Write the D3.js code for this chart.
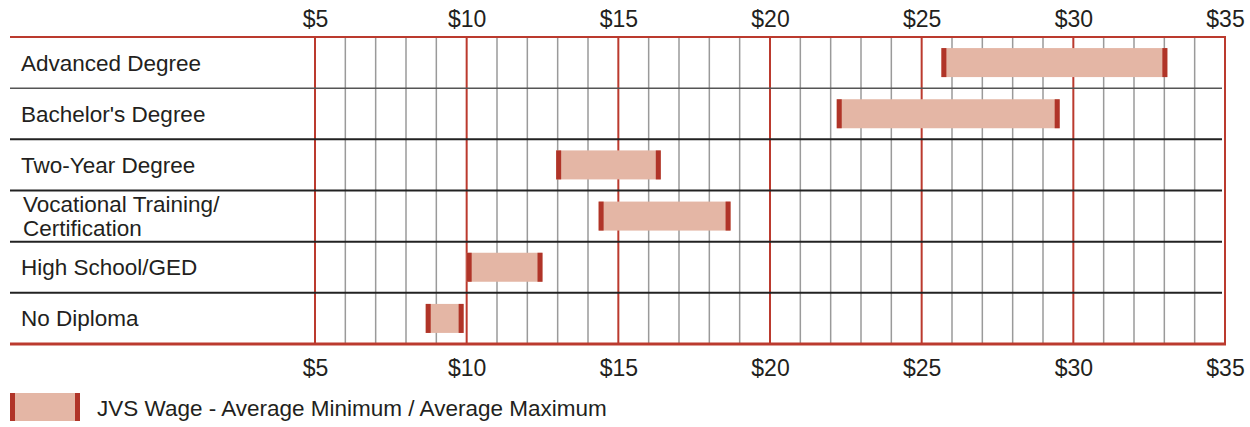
<!DOCTYPE html>
<html><head><meta charset="utf-8">
<script src="https://cdn.jsdelivr.net/npm/d3@7"></script>
<style>
html,body{margin:0;padding:0;background:#fff;}
svg{display:block;font-family:"Liberation Sans",Arial,sans-serif;}
</style></head>
<body>
<svg id="chart" width="1250" height="427"></svg>
<script>
const categories = ["Advanced Degree","Bachelor's Degree","Two-Year Degree","Vocational Training/\nCertification","High School/GED","No Diploma"];
const minWage = [25.65, 22.2, 12.95, 14.35, 10.0, 8.65];
const maxWage = [33.1, 29.55, 16.4, 18.7, 12.5, 9.9];
const tickValues = [5,10,15,20,25,30,35];
const legendLabel = "JVS Wage - Average Minimum / Average Maximum";

const RED = "#bb3a2e", CAP = "#b03428", FILL = "#e4b6a5", TXT = "#231f20";
const svg = d3.select("#chart");
const x = d3.scaleLinear().domain([5,35]).range([315,1225]);
const y = d3.scaleBand().domain(categories).range([37,344]).paddingInner(0).paddingOuter(0);
const barH = 29;

// minor & major gridlines
const grid = d3.range(5,36,1);
svg.append("g").selectAll("line").data(grid).join("line")
  .attr("x1",d=>x(d)).attr("x2",d=>x(d)).attr("y1",37).attr("y2",344)
  .attr("stroke",d=>d%5===0?RED:"#9a9a9a")
  .attr("stroke-width",d=>d%5===0?2:1.5);

// row separators
const seps = categories.slice(1);
svg.append("g").selectAll("line").data(seps).join("line")
  .attr("x1",10).attr("x2",1222)
  .attr("y1",d=>y(d)).attr("y2",d=>y(d))
  .attr("stroke",(d,i)=>i===0?"#555":"#222")
  .attr("stroke-width",(d,i)=>i===0?1.5:2);

// top & bottom borders
svg.append("line").attr("x1",10).attr("x2",1226).attr("y1",37).attr("y2",37).attr("stroke",RED).attr("stroke-width",2);
svg.append("line").attr("x1",10).attr("x2",1226).attr("y1",344).attr("y2",344).attr("stroke",RED).attr("stroke-width",3);

// bars
const data = categories.map((c,i)=>({c, lo:minWage[i], hi:maxWage[i]}));
const bars = svg.append("g").selectAll("g").data(data).join("g")
  .attr("transform",d=>`translate(0,${y(d.c)+y.bandwidth()/2-barH/2})`);
bars.append("rect").attr("x",d=>x(d.lo)).attr("width",d=>x(d.hi)-x(d.lo)).attr("height",barH).attr("fill",FILL);
bars.append("rect").attr("x",d=>x(d.lo)).attr("width",5).attr("height",barH).attr("fill",CAP);
bars.append("rect").attr("x",d=>x(d.hi)-5).attr("width",5).attr("height",barH).attr("fill",CAP);

// category labels
const lab = svg.append("g").selectAll("text").data(categories).join("text")
  .attr("font-size",22.5).attr("fill",TXT);
lab.each(function(d){
  const lines = d.split("\n");
  const t = d3.select(this);
  const cy = y(d)+y.bandwidth()/2;
  const lh = 24;
  lines.forEach((ln,k)=>{
    t.append("tspan").attr("x",lines.length>1?23:21)
      .attr("y",cy + 8 + (k-(lines.length-1)/2)*lh).text(ln);
  });
});

// axes
const fmt = d=>"$"+d;
const topAxis = svg.append("g").attr("transform","translate(0,27)")
  .call(d3.axisTop(x).tickValues(tickValues).tickFormat(fmt).tickSize(0).tickPadding(0));
const botAxis = svg.append("g").attr("transform","translate(0,376)")
  .call(d3.axisTop(x).tickValues(tickValues).tickFormat(fmt).tickSize(0).tickPadding(0));
[topAxis,botAxis].forEach(a=>{
  a.select(".domain").remove();
  a.selectAll("text").attr("font-size",23).attr("fill",TXT)
    .attr("font-family","'Liberation Sans',Arial,sans-serif").attr("dy",0);
});

// legend
const lg = svg.append("g").attr("transform","translate(10,393)");
lg.append("rect").attr("x",0).attr("width",70).attr("height",28).attr("fill",FILL);
lg.append("rect").attr("x",0).attr("width",5).attr("height",28).attr("fill",CAP);
lg.append("rect").attr("x",65).attr("width",5).attr("height",28).attr("fill",CAP);
lg.append("text").attr("x",87).attr("y",23).attr("font-size",22.5).attr("fill",TXT).text(legendLabel);
</script>
</body></html>
